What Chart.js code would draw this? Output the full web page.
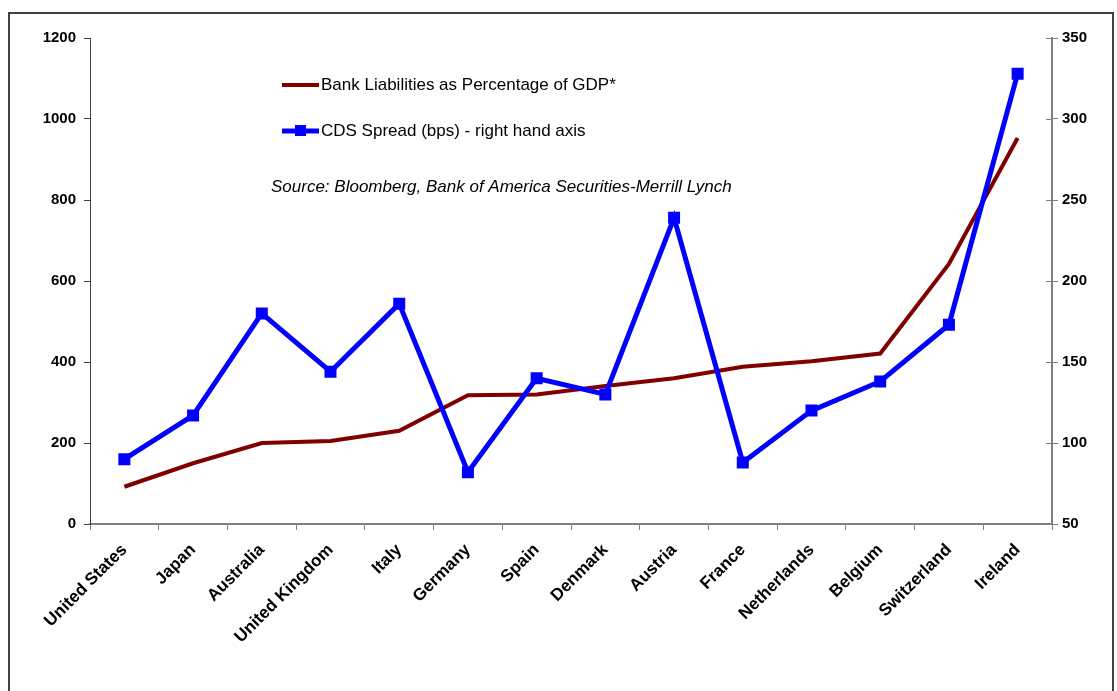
<!DOCTYPE html>
<html>
<head>
<meta charset="utf-8">
<script src="https://cdn.jsdelivr.net/npm/chart.js@4.4.1/dist/chart.umd.min.js"></script>
<style>
  body { margin: 0; background: #fff; }
  #wrap { position: relative; width: 1117px; height: 691px; overflow: hidden; }
  #frame { position: absolute; left: 8px; top: 12px; width: 1102px; height: 700px; border: 2px solid #404040; }
  canvas { position: absolute; left: 0; top: 0; }
</style>
</head>
<body>
<div id="wrap">
  <div id="frame"></div>
  <canvas id="myChart" width="1117" height="691"></canvas>
</div>
<script>
var countries = ['United States', 'Japan', 'Australia', 'United Kingdom', 'Italy', 'Germany', 'Spain',
  'Denmark', 'Austria', 'France', 'Netherlands', 'Belgium', 'Switzerland', 'Ireland']
var liabilities = [92, 150, 200, 205, 230, 318, 320, 341, 360, 388, 402, 421, 642, 953]
var cdsSpread = [90, 117, 180, 144, 186, 82, 140, 130, 239, 88, 120, 138, 173, 328]
var leftTicks = [0, 200, 400, 600, 800, 1000, 1200]
var rightTicks = [50, 100, 150, 200, 250, 300, 350]

var liabLabel = 'Bank Liabilities as Percentage of GDP*'
var cdsLabel = 'CDS Spread (bps) - right hand axis'
var sourceText = 'Source: Bloomberg, Bank of America Securities-Merrill Lynch'

var font = '"Liberation Sans", Arial, sans-serif'

// legend + source note drawn inside the plot, like the original
var notes = {
  id: 'notes',
  afterDraw(chart) {
    var c = chart.ctx
    c.save()
    // right axis ticks cross the axis line
    var r = chart.scales.y1
    c.strokeStyle = '#808080'
    c.lineWidth = 1
    rightTicks.forEach(v => {
      var y = Math.round(r.getPixelForValue(v)) + 0.5
      c.beginPath(); c.moveTo(r.left - 6, y); c.lineTo(r.left, y); c.stroke()
    })
    c.lineWidth = 4
    c.strokeStyle = '#800000'
    c.beginPath(); c.moveTo(282, 85); c.lineTo(319, 85); c.stroke()
    c.lineWidth = 5
    c.strokeStyle = '#0000ff'
    c.beginPath(); c.moveTo(282, 131); c.lineTo(319, 131); c.stroke()
    c.fillStyle = '#0000ff'
    c.fillRect(295, 125, 11, 11)
    c.fillStyle = '#000'
    c.font = '17px ' + font
    c.textBaseline = 'middle'
    c.fillText(liabLabel, 321, 85)
    c.fillText(cdsLabel, 321, 131)
    c.font = 'italic 17px ' + font
    c.fillText(sourceText, 271, 187)
    c.restore()
  }
}

var ctx = document.getElementById('myChart').getContext('2d')
var myChart = new Chart(ctx, {
  type: 'line',
  data: {
    labels: countries,
    datasets: [{
      label: cdsLabel,
      data: cdsSpread,
      borderColor: '#0000ff',
      backgroundColor: '#0000ff',
      borderWidth: 5,
      pointStyle: 'rect',
      pointRadius: 8.5,
      pointBorderWidth: 0,
      tension: 0,
      yAxisID: 'y1',
      order: 0
    },
    {
      label: liabLabel,
      data: liabilities,
      borderColor: '#800000',
      backgroundColor: '#800000',
      borderWidth: 4,
      pointRadius: 0,
      tension: 0,
      yAxisID: 'y',
      order: 1
    }]
  },
  plugins: [notes],
  options: {
    responsive: false,
    animation: false,
    layout: { padding: { left: 0, right: 0, top: 38, bottom: 0 } },
    plugins: {
      legend: { display: false },
      tooltip: { enabled: false }
    },
    scales: {
      x: {
        offset: true,
        grid: { offset: true, drawOnChartArea: false, drawTicks: true, tickLength: 6, color: '#808080' },
        border: { color: '#808080', width: 2 },
        ticks: {
          maxRotation: 45, minRotation: 45, autoSkip: false, padding: 10,
          color: '#000', font: { family: font, size: 17, weight: 'bold' }
        },
        afterFit(scale) { scale.height = 167 }
      },
      y: {
        position: 'left',
        min: 0, max: 1200,
        afterBuildTicks(scale) { scale.ticks = leftTicks.map(v => ({ value: v })) },
        grid: { drawOnChartArea: false, tickLength: 6, color: '#404040' },
        border: { color: '#404040', width: 1 },
        ticks: {
          padding: 8, color: '#000', font: { family: font, size: 15, weight: 'bold' },
          callback: v => String(v)
        },
        afterFit(scale) { scale.width = 90 }
      },
      y1: {
        position: 'right',
        min: 50, max: 350,
        afterBuildTicks(scale) { scale.ticks = rightTicks.map(v => ({ value: v })) },
        grid: { drawOnChartArea: false, tickLength: 6, color: '#808080' },
        border: { color: '#808080', width: 2 },
        ticks: {
          padding: 4, color: '#000', font: { family: font, size: 15, weight: 'bold' },
          callback: v => String(v)
        },
        afterFit(scale) { scale.width = 65 }
      }
    }
  }
})
</script>
</body>
</html>
